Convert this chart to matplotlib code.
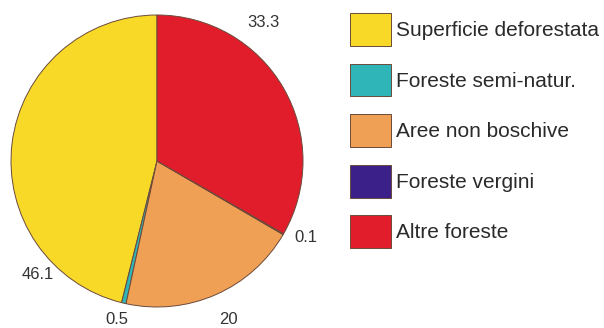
import matplotlib.pyplot as plt

categorie = ['Superficie deforestata', 'Foreste semi-natur.', 'Aree non boschive',
             'Foreste vergini', 'Altre foreste']
valori = [46.1, 0.5, 20, 0.1, 33.3]
etichette = ['46.1', '0.5', '20', '0.1', '33.3']
colori = ['#f8d928', '#2fb4b8', '#f0a055', '#3a2088', '#e11d2b']

# posizione delle etichette numeriche (in raggi, rispetto al centro)
pos_etichette = [(-0.815, -0.78), (-0.274, -1.085), (0.486, -1.085),
                 (1.02, -0.527), (0.726, 0.952)]

plt.rcParams['font.family'] = ['Liberation Sans', 'DejaVu Sans']

W, H = 604, 328
fig = plt.figure(figsize=(W / 100, H / 100), dpi=100)

# cerchio: centro (157, 161) px, raggio 146 px
cx, cy, r = 157, 161, 146
ax = fig.add_axes([(cx - r) / W, (H - cy - r) / H, 2 * r / W, 2 * r / H])
spicchi, testi = ax.pie(valori, colors=colori, startangle=90, labels=etichette,
                        wedgeprops=dict(edgecolor='#6b4a3a', linewidth=0.7),
                        textprops=dict(fontsize=12, color='#333333'))
ax.set_xlim(-1, 1)
ax.set_ylim(-1, 1)
ax.set_aspect('equal')

for t, p in zip(testi, pos_etichette):
    t.set_position(p)
    t.set_ha('center')
    t.set_va('center')
    t.set_clip_on(False)

leg = fig.legend(spicchi, categorie, loc='upper left',
                 bbox_to_anchor=(350 / W, 1 - 13 / H),
                 frameon=False, fontsize=15,
                 handlelength=1.97, handleheight=2.05,
                 handletextpad=0.25, labelspacing=0.85, borderaxespad=0,
                 borderpad=0)
for t in leg.get_texts():
    t.set_color('#2a2a2a')

fig.savefig('out.png', dpi=100)
